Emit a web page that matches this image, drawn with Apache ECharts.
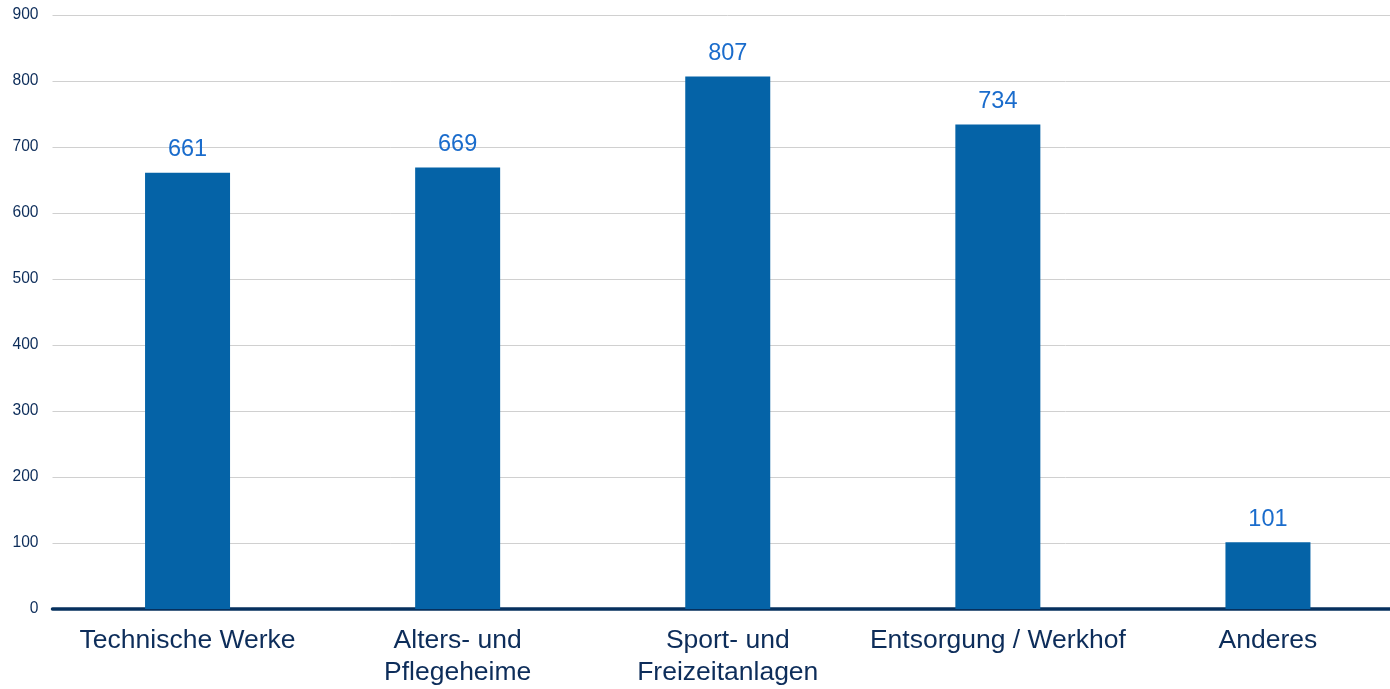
<!DOCTYPE html>
<html><head><meta charset="utf-8">
<script src="https://cdn.jsdelivr.net/npm/echarts@6/dist/echarts.min.js"></script>
<style>html,body{margin:0;padding:0;background:#fff;overflow:hidden}#c{width:1403px;height:689px}</style>
</head><body><div id="c"></div>
<script>
const categories = ['Technische Werke', 'Alters- und\nPflegeheime', 'Sport- und\nFreizeitanlagen', 'Entsorgung / Werkhof', 'Anderes'];
const values = [661, 669, 807, 734, 101];
const yTicks = { min: 0, max: 900, interval: 100 };

const chart = echarts.init(document.getElementById('c'));
chart.setOption({
  animation: false,
  grid: { left: 52.5, top: 15, right: 0, height: 595, containLabel: false },
  xAxis: {
    type: 'category', data: categories,
    axisLine: { show: true, lineStyle: { color: '#06305e', width: 3.5 } },
    axisTick: { show: false },
    axisLabel: { color: '#0d2d5a', fontFamily: 'Liberation Sans, Arial, sans-serif', fontSize: 26.5, lineHeight: 32, margin: 16, interval: 0 }
  },
  yAxis: {
    type: 'value', min: yTicks.min, max: yTicks.max, interval: yTicks.interval,
    axisLine: { show: false }, axisTick: { show: false },
    axisLabel: { color: '#0d2d5a', fontFamily: 'Liberation Sans, Arial, sans-serif', fontSize: 15.6, margin: 14 },
    splitLine: { lineStyle: { color: '#d0d0d0', width: 1 } }
  },
  series: [{
    type: 'bar', data: values, barWidth: 85,
    itemStyle: { color: '#0563a7' },
    label: { show: true, position: 'top', distance: 11, color: '#1a6ccc', fontFamily: 'Liberation Sans, Arial, sans-serif', fontSize: 23.5 }
  }]
});
</script></body></html>
